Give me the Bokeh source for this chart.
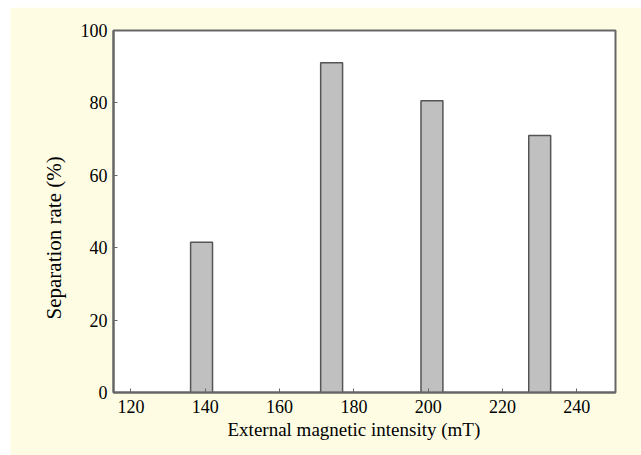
from bokeh.plotting import figure
from bokeh.models import Range1d, FixedTicker, Title
from bokeh.embed import file_html
from bokeh.resources import INLINE

# Data
intensity = [139, 174, 201, 230]          # external magnetic intensity (mT)
separation = [41.5, 91.1, 80.6, 71.0]     # separation rate (%)
x_ticks = [120, 140, 160, 180, 200, 220, 240]
y_ticks = [0, 20, 40, 60, 80, 100]
x_title = "External magnetic intensity (mT)"
y_title = "Separation rate (%)"

BG = "#FEFDE4"
FONT = "Times New Roman, Liberation Serif, serif"

p = figure(width=631, height=448, output_backend="svg", toolbar_location=None,
           x_range=Range1d(115.3, 250.4), y_range=Range1d(0, 100),
           min_border_left=103, min_border_right=26, min_border_top=23,
           min_border_bottom=63)
p.margin = (7, 0, 0, 10)

p.background_fill_color = "white"
p.border_fill_color = BG
p.outline_line_color = "#666666"
p.outline_line_width = 2
p.grid.visible = False

p.vbar(x=intensity, top=separation, bottom=0, width=5.9,
       fill_color="#C0C0C0", line_color="#555555", line_width=1.5)

for ax in (p.xaxis[0], p.yaxis[0]):
    ax.axis_line_color = "#666666"
    ax.axis_line_width = 2
    ax.major_tick_in = 4
    ax.major_tick_out = 0
    ax.major_tick_line_color = "#666666"
    ax.minor_tick_line_color = None
    ax.major_label_text_font = FONT
    ax.major_label_text_font_size = "18px"
    ax.major_label_text_color = "black"

p.xaxis.ticker = FixedTicker(ticks=x_ticks)
p.yaxis.ticker = FixedTicker(ticks=y_ticks)
p.xaxis.major_label_standoff = 7
p.yaxis.major_label_standoff = 6

# Axis titles as side titles (shifted like in the reference)
p.add_layout(Title(text=x_title, align="left", offset=114,
                   text_font=FONT, text_font_size="19px",
                   text_font_style="normal", text_color="black",
                   standoff=2), "below")
p.add_layout(Title(text=y_title, align="left", offset=73,
                   text_font=FONT, text_font_size="21px",
                   text_font_style="normal", text_color="black",
                   standoff=23), "left")

open("out.html", "w").write(file_html(p, INLINE))
